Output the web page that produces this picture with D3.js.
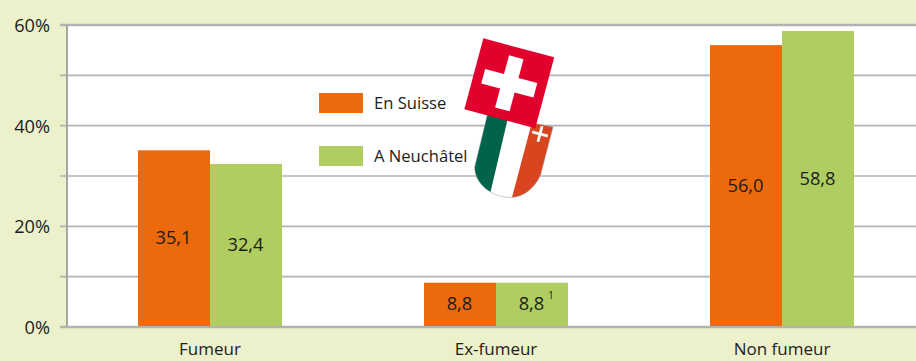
<!DOCTYPE html>
<html><head><meta charset="utf-8">
<script src="https://cdn.jsdelivr.net/npm/d3@7/dist/d3.min.js"></script>
<style>html,body{margin:0;padding:0;background:#ecf1cb;overflow:hidden}svg{display:block}text{font-family:"Open Sans",sans-serif;fill:#1d1d1b}</style>
</head><body><div id="c"></div>
<script>
const categories = ["Fumeur","Ex-fumeur","Non fumeur"];
const seriesNames = ["En Suisse","A Neuchâtel"];
const suisse = [35.1,8.8,56.0];
const neuchatel = [32.4,8.8,58.8];
const labelsSuisse = ["35,1","8,8","56,0"];
const labelsNeuchatel = ["32,4","8,8","58,8"];
const footnotes = ["","1",""];
const yTicks = [0,20,40,60];
const yGrid = [0,10,20,30,40,50,60];
const colors = ["#ec690c","#afcd60"];

const W=916,H=361;
const svg=d3.select("#c").append("svg").attr("width",W).attr("height",H);
const y=d3.scaleLinear().domain([0,60]).range([327,25]);
const x=d3.scaleBand().domain(categories).range([67,925]);
const xs=d3.scaleBand().domain([0,1]).range([0,144]);
const left=c=>x(c)+x.bandwidth()/2-72;

svg.append("rect").attr("x",67).attr("y",y(60)).attr("width",W-67).attr("height",y(0)-y(60)).attr("fill","#fff");

// gridlines + ticks
svg.append("g").selectAll("line").data(yGrid).join("line")
  .attr("x1",60).attr("x2",W).attr("y1",d=>y(d)).attr("y2",d=>y(d))
  .attr("stroke","#b2b2b2").attr("stroke-width",d=>d===60||d===0?2.4:1.6);

// bars
[suisse,neuchatel].forEach((vals,s)=>{
  svg.append("g").selectAll("rect").data(categories).join("rect")
    .attr("x",c=>left(c)+xs(s)).attr("width",xs.bandwidth())
    .attr("y",(c,i)=>y(vals[i])).attr("height",(c,i)=>y(0)-y(vals[i]))
    .attr("fill",colors[s]);
});
// axis lines
svg.append("line").attr("x1",67).attr("x2",67).attr("y1",y(60)).attr("y2",y(0)+1).attr("stroke","#a6a6a6").attr("stroke-width",2);
svg.append("line").attr("x1",60).attr("x2",W).attr("y1",y(0)).attr("y2",y(0)).attr("stroke","#b2b2b2").attr("stroke-width",2);

// axis labels
const yAxis=d3.axisLeft(y).tickValues(yTicks).tickFormat(d=>d+"%").tickSize(0).tickPadding(17);
const gy=svg.append("g").attr("transform","translate(67,0)").call(yAxis);
gy.select(".domain").remove();
gy.selectAll("text").attr("font-size",18.2).attr("dy","0.36em");
const xAxis=d3.axisBottom(x).tickSize(0).tickPadding(16);
const gx=svg.append("g").attr("transform","translate(0,327)").call(xAxis);
gx.select(".domain").remove();
gx.selectAll("text").attr("font-size",17);

// value labels
[[labelsSuisse,suisse],[labelsNeuchatel,neuchatel]].forEach(([labs,vals],s)=>{
  svg.append("g").selectAll("text").data(categories).join("text")
    .attr("x",c=>left(c)+xs(s)+xs.bandwidth()/2-0.5)
    .attr("y",(c,i)=>y(vals[i]/2)-1).attr("dy","0.36em")
    .attr("text-anchor","middle").attr("font-size",18.3)
    .text((c,i)=>labs[i]);
});
svg.append("g").selectAll("text").data(categories.filter((c,i)=>footnotes[i])).join("text")
  .attr("x",c=>left(c)+xs(1)+xs.bandwidth()/2+16)
  .attr("y",299).attr("text-anchor","start").attr("font-size",10.5)
  .text(c=>footnotes[categories.indexOf(c)]);

// legend
const lg=svg.append("g").selectAll("g").data(seriesNames).join("g")
  .attr("transform",(d,i)=>`translate(319,${93+i*53})`);
lg.append("rect").attr("width",44).attr("height",20).attr("fill",(d,i)=>colors[i]);
lg.append("text").attr("x",55).attr("y",10).attr("dy","0.36em").attr("font-size",16.6).text(d=>d);

// crests
const defs=svg.append("defs");
const shield="M487.5,114 L553,127 L540.5,175 C535,188 523,197.5 511,197.5 C492,197.5 474.5,184 474.7,167 Z";
defs.append("clipPath").attr("id","sh").append("path").attr("d",shield);
const cr=svg.append("g");
const g=cr.append("g").attr("clip-path","url(#sh)");
g.append("path").attr("d",shield).attr("fill","#fff");
g.append("path").attr("d","M470,105 L511,105 L490.5,192 L465,205 Z").attr("fill","#00634a");
g.append("path").attr("d","M532,122 L560,122 L560,205 L510,205 Z").attr("fill","#d9451f");
cr.append("path").attr("d",shield).attr("fill","none").attr("stroke","#9a9a9a").attr("stroke-width",0.5);
const plus=cr.append("g").attr("transform","translate(540,134) rotate(15)");
plus.append("path").attr("d","M-8,0H8M0,-8V8").attr("stroke","#d9d9d9").attr("stroke-width",3);
plus.append("path").attr("d","M-8,0H8M0,-8V8").attr("stroke","#fff").attr("stroke-width",1.6);
const fl=cr.append("g").attr("transform","translate(509.3,83.3) rotate(15)");
fl.append("rect").attr("x",-36.7).attr("y",-36.7).attr("width",73.4).attr("height",73.4).attr("fill","#e2002d");
fl.append("path").attr("d","M-7.5,-27H7.5V-7.5H27V7.5H7.5V27H-7.5V7.5H-27V-7.5H-7.5Z").attr("fill","#fff");
</script></body></html>
